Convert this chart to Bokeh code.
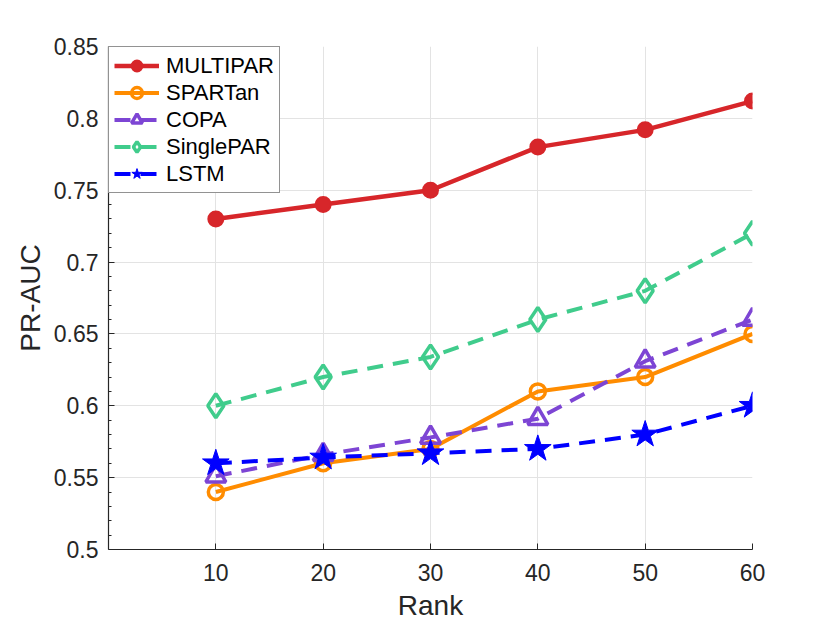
from bokeh.plotting import figure
from bokeh.models import FixedTicker, Range1d
from bokeh.embed import file_html
from bokeh.resources import INLINE

ranks = [10, 20, 30, 40, 50, 60]
multipar = [0.730, 0.740, 0.750, 0.780, 0.792, 0.812]
spartan = [0.540, 0.560, 0.570, 0.610, 0.620, 0.650]
copa = [0.551, 0.566, 0.578, 0.591, 0.631, 0.660]
singlepar = [0.600, 0.620, 0.634, 0.660, 0.680, 0.720]
lstm = [0.560, 0.564, 0.567, 0.570, 0.580, 0.600]

x_ticks = [10, 20, 30, 40, 50, 60]
y_ticks = [0.5, 0.55, 0.6, 0.65, 0.7, 0.75, 0.8, 0.85]
y_tick_labels = ["0.5", "0.55", "0.6", "0.65", "0.7", "0.75", "0.8", "0.85"]
y_minor = [0.51, 0.52, 0.53, 0.54, 0.56, 0.57, 0.58, 0.59, 0.61, 0.62, 0.63, 0.64,
           0.66, 0.67, 0.68, 0.69, 0.71, 0.72, 0.73, 0.74, 0.76, 0.77, 0.78, 0.79,
           0.81, 0.82, 0.83, 0.84]

FONT = "Liberation Sans"
AX = "#262626"

p = figure(width=830, height=623, output_backend="svg", toolbar_location=None,
           x_range=Range1d(0, 60), y_range=Range1d(0.5, 0.85),
           min_border_left=108, min_border_right=78, min_border_top=46,
           min_border_bottom=74)
p.outline_line_color = None
p.background_fill_color = "white"
p.border_fill_color = "white"

for g in (p.xgrid, p.ygrid):
    g.grid_line_color = "#e3e3e3"
    g.grid_line_width = 1
p.xgrid.ticker = FixedTicker(ticks=x_ticks)
p.ygrid.ticker = FixedTicker(ticks=y_ticks)

p.xaxis.ticker = FixedTicker(ticks=x_ticks)
p.yaxis.ticker = FixedTicker(ticks=y_ticks, minor_ticks=y_minor)
p.yaxis.major_label_overrides = {v: s for v, s in zip(y_ticks, y_tick_labels)}
for ax in (p.xaxis, p.yaxis):
    ax.axis_line_color = AX
    ax.axis_line_width = 1.2
    ax.major_tick_line_color = AX
    ax.minor_tick_line_color = AX
    ax.major_tick_in = 6
    ax.major_tick_out = 0
    ax.minor_tick_in = 3
    ax.minor_tick_out = 0
    ax.major_label_text_font = FONT
    ax.major_label_text_font_size = "23px"
    ax.major_label_text_color = AX
    ax.axis_label_text_font = FONT
    ax.axis_label_text_font_size = "28px"
    ax.axis_label_text_color = AX
    ax.axis_label_text_font_style = "normal"
p.xaxis.minor_tick_line_color = None
p.xaxis.axis_label = "Rank"
p.yaxis.axis_label = "PR-AUC"
p.xaxis.major_label_standoff = 14
p.xaxis.axis_label_standoff = 6
p.yaxis.major_label_standoff = 10
p.yaxis.axis_label_standoff = 5

red = "#D7262A"
orange = "#FF8C00"
purple = "#7D45D4"
green = "#40CC8C"
blue = "#0000FF"

p.line(ranks, multipar, color=red, line_width=4.5, legend_label="MULTIPAR")
p.scatter(ranks, multipar, marker="circle", size=15, fill_color=red, line_color=red,
          line_width=2, legend_label="MULTIPAR")

p.line(ranks, spartan, color=orange, line_width=4, legend_label="SPARTan")
p.scatter(ranks, spartan, marker="circle", size=15, fill_alpha=0, line_color=orange,
          line_width=3.5, legend_label="SPARTan")

p.line(ranks, copa, color=purple, line_width=4, line_dash="16 10", legend_label="COPA")
p.scatter(ranks, copa, marker="triangle", size=20, fill_alpha=0, line_color=purple,
          line_width=3.5, legend_label="COPA")

p.line(ranks, singlepar, color=green, line_width=4, line_dash="16 10", legend_label="SinglePAR")
p.scatter(ranks, singlepar, marker="diamond", size=24, fill_alpha=0, line_color=green,
          line_width=3.5, legend_label="SinglePAR")

p.line(ranks, lstm, color=blue, line_width=4, line_dash="16 10", legend_label="LSTM")
p.scatter(ranks, lstm, marker="star", size=28, fill_color=blue, line_color=blue,
          line_width=1, legend_label="LSTM")

lg = p.legend[0]
lg.location = "top_left"
lg.margin = 0
lg.padding = 5
lg.spacing = 0
lg.glyph_width = 45
lg.glyph_height = 27
lg.label_height = 27
lg.label_standoff = 7
lg.label_text_font = FONT
lg.label_text_font_size = "22px"
lg.label_text_color = "black"
lg.border_line_color = AX
lg.border_line_width = 1.2
lg.background_fill_color = "white"
lg.background_fill_alpha = 1.0

open("out.html", "w").write(file_html(p, INLINE))
